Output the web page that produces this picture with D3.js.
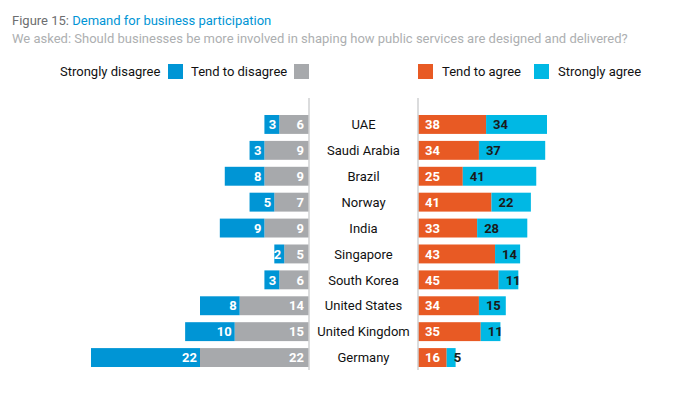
<!DOCTYPE html>
<html>
<head>
<meta charset="utf-8">
<script src="https://cdn.jsdelivr.net/npm/d3@7"></script>
<style>
    body { margin: 0; background: #fff; }
    svg { display: block; font-family: "Liberation Sans Narrow", "Roboto", sans-serif; }
</style>
</head>
<body>
<div class="vis"></div>
<script>
    const countries = ["UAE", "Saudi Arabia", "Brazil", "Norway", "India", "Singapore",
        "South Korea", "United States", "United Kingdom", "Germany"];
    const stronglyDisagree = [3, 3, 8, 5, 9, 2, 3, 8, 10, 22];
    const tendToDisagree = [6, 9, 9, 7, 9, 5, 6, 14, 15, 22];
    const tendToAgree = [38, 34, 25, 41, 33, 43, 45, 34, 35, 16];
    const stronglyAgree = [34, 37, 41, 22, 28, 14, 11, 15, 11, 5];

    const colors = {
        sd: "#0095d5",
        td: "#a7a9ac",
        ta: "#e85a24",
        sa: "#00b8e4"
    };

    const dimensions = {
        width: 690,
        height: 394,
        leftAxis: 309,
        rightAxis: 418
    };

    const svg = d3.select(".vis").append("svg")
        .attr("width", dimensions.width)
        .attr("height", dimensions.height);

    // title
    const title = svg.append("text")
        .attr("x", 12)
        .attr("y", 25)
        .style("font-size", "13px");
    title.append("tspan").attr("fill", "#6d6e70").text("Figure 15: ");
    title.append("tspan").attr("fill", "#0095d5").text("Demand for business participation");

    svg.append("text")
        .attr("x", 12)
        .attr("y", 43)
        .attr("fill", "#adafb1")
        .style("font-size", "13px")
        .text("We asked: Should businesses be more involved in shaping how public services are designed and delivered?");

    // legend
    const legend = [
        {label: "Strongly disagree", color: colors.sd, tx: 60, sx: 168},
        {label: "Tend to disagree", color: colors.td, tx: 191, sx: 294},
        {label: "Tend to agree", color: colors.ta, tx: 442, sx: 418},
        {label: "Strongly agree", color: colors.sa, tx: 558, sx: 534}
    ];

    const lg = svg.append("g").attr("class", "legend");
    lg.selectAll("rect")
        .data(legend)
        .enter().append("rect")
        .attr("x", d => d.sx)
        .attr("y", 64)
        .attr("width", 15)
        .attr("height", 15)
        .attr("fill", d => d.color);
    lg.selectAll("text")
        .data(legend)
        .enter().append("text")
        .attr("x", d => d.tx)
        .attr("y", 76)
        .attr("fill", "#111")
        .style("font-size", "13px")
        .text(d => d.label);

    // scales
    const y = d3.scaleBand()
        .domain(countries)
        .range([111.5, 370.5])
        .paddingInner(0.27)
        .paddingOuter(0.135);

    const xLeft = d3.scaleLinear()
        .domain([0, 44])
        .range([dimensions.leftAxis, 91]);

    const xRight = d3.scaleLinear()
        .domain([0, 72])
        .range([dimensions.rightAxis, 547]);

    const rows = countries.map((c, i) => ({
        country: c,
        sd: stronglyDisagree[i],
        td: tendToDisagree[i],
        ta: tendToAgree[i],
        sa: stronglyAgree[i]
    }));

    const row = svg.selectAll(".row")
        .data(rows)
        .enter().append("g")
        .attr("class", "row")
        .attr("transform", d => `translate(0,${y(d.country)})`);

    const bh = y.bandwidth();

    // disagree side
    row.append("rect")
        .attr("x", d => xLeft(d.td))
        .attr("width", d => xLeft(0) - xLeft(d.td))
        .attr("height", bh)
        .attr("fill", colors.td);
    row.append("rect")
        .attr("x", d => xLeft(d.td + d.sd))
        .attr("width", d => xLeft(d.td) - xLeft(d.td + d.sd))
        .attr("height", bh)
        .attr("fill", colors.sd);

    // agree side
    row.append("rect")
        .attr("x", xRight(0))
        .attr("width", d => xRight(d.ta) - xRight(0))
        .attr("height", bh)
        .attr("fill", colors.ta);
    row.append("rect")
        .attr("x", d => xRight(d.ta))
        .attr("width", d => xRight(d.ta + d.sa) - xRight(d.ta))
        .attr("height", bh)
        .attr("fill", colors.sa);

    const valueLabel = (sel) => sel
        .attr("y", bh / 2)
        .attr("dy", "0.36em")
        .style("font-size", "13px")
        .style("font-weight", "bold");

    row.append("text")
        .call(valueLabel)
        .attr("x", xLeft(0) - 5)
        .attr("text-anchor", "end")
        .attr("fill", "#fff")
        .text(d => d.td);
    row.append("text")
        .call(valueLabel)
        .attr("x", d => xLeft(d.td) - 3)
        .attr("text-anchor", "end")
        .attr("fill", "#fff")
        .text(d => d.sd);
    row.append("text")
        .call(valueLabel)
        .attr("x", xRight(0) + 7)
        .attr("fill", "#fff")
        .text(d => d.ta);
    row.append("text")
        .call(valueLabel)
        .attr("x", d => xRight(d.ta) + 7)
        .attr("fill", "#1a1a1a")
        .text(d => d.sa);

    // country names
    row.append("text")
        .attr("x", (dimensions.leftAxis + dimensions.rightAxis) / 2)
        .attr("y", bh / 2)
        .attr("dy", "0.36em")
        .attr("text-anchor", "middle")
        .attr("fill", "#111")
        .style("font-size", "13px")
        .text(d => d.country);

    // axis lines
    [dimensions.leftAxis, dimensions.rightAxis].forEach(x => {
        svg.append("line")
            .attr("x1", x)
            .attr("x2", x)
            .attr("y1", 98)
            .attr("y2", 370)
            .attr("stroke", "#cfd0d2")
            .attr("stroke-width", 1.5);
    });
</script>
</body>
</html>
